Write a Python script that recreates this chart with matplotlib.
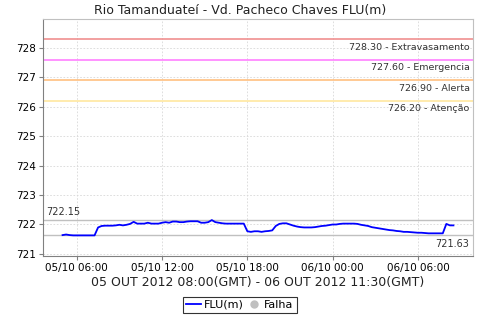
import datetime as dt

import matplotlib

matplotlib.use("Agg")
import matplotlib.pyplot as plt
import matplotlib.dates as mdates
from matplotlib.lines import Line2D

# ---- data ---------------------------------------------------------------- #
start = dt.datetime(2012, 10, 5, 5, 0)
step_min = 15
flu = [
    721.64, 721.66, 721.64, 721.63, 721.63, 721.63, 721.63, 721.63, 721.63, 721.63,
    721.90, 721.95, 721.96, 721.96, 721.96, 721.97, 721.99, 721.97, 721.99, 722.02,
    722.09, 722.03, 722.03, 722.03, 722.06, 722.03, 722.03, 722.03, 722.06, 722.08,
    722.06, 722.10, 722.10, 722.08, 722.08, 722.10, 722.11, 722.11, 722.11, 722.06,
    722.06, 722.08, 722.15, 722.08, 722.06, 722.04, 722.03, 722.03, 722.03, 722.03,
    722.03, 722.03, 721.77, 721.75, 721.77, 721.77, 721.75, 721.77, 721.78, 721.80,
    721.95, 722.02, 722.04, 722.04, 722.00, 721.96, 721.93, 721.91, 721.90, 721.90,
    721.90, 721.91, 721.93, 721.95, 721.96, 721.98, 722.00, 722.00, 722.02, 722.03,
    722.03, 722.03, 722.03, 722.02, 721.99, 721.97, 721.95, 721.91, 721.89, 721.87,
    721.85, 721.83, 721.81, 721.80, 721.78, 721.77, 721.75, 721.75, 721.74, 721.73,
    721.72, 721.72, 721.71, 721.70, 721.70, 721.70, 721.70, 721.70, 722.02, 721.97,
    721.97,
]
times = [start + dt.timedelta(minutes=step_min * i) for i in range(len(flu))]

thr_values = [728.30, 727.60, 726.90, 726.20]
thr_names = ["Extravasamento", "Emergencia", "Alerta", "Atenção"]
thr_colors = ["#f09090", "#ff80ff", "#ffc080", "#ffe8a0"]

vmax, vmin = 722.15, 721.63

# ---- figure -------------------------------------------------------------- #
plt.rcParams["font.family"] = "DejaVu Sans"
fig = plt.figure(figsize=(4.8, 3.2), dpi=100)
ax = fig.add_axes([0.0896, 0.2, 0.8958, 0.7406])

t0 = mdates.date2num(times[0])
t1 = mdates.date2num(times[-1])
pad = 0.05 * (t1 - t0)
ax.set_xlim(t0 - pad, t1 + pad)
ax.set_ylim(720.93, 728.98)

# light dashed grid
ax.grid(True, color="#d8d8d8", linestyle=(0, (2, 2)), linewidth=0.6)
ax.set_axisbelow(True)

for v, name, c in zip(thr_values, thr_names, thr_colors):
    ax.axhline(v, color=c, lw=1.2, zorder=2)
    ax.text(0.992, v - 0.12, f"{v:.2f} - {name}", transform=ax.get_yaxis_transform(),
            ha="right", va="top", fontsize=6.8, color="#333333")

for v in (vmax, vmin):
    ax.axhline(v, color="#c0c0c0", lw=1.0, zorder=2)
ax.text(0.008, vmax + 0.12, f"{vmax:.2f}", transform=ax.get_yaxis_transform(),
        ha="left", va="bottom", fontsize=7, color="#333333")
ax.text(0.992, vmin - 0.12, f"{vmin:.2f}", transform=ax.get_yaxis_transform(),
        ha="right", va="top", fontsize=7, color="#333333")

ax.plot(times, flu, color="#0000ff", lw=1.3, zorder=3)

ax.xaxis.set_major_locator(mdates.HourLocator(byhour=[0, 6, 12, 18]))
ax.xaxis.set_major_formatter(mdates.DateFormatter("%d/%m %H:%M"))
ax.set_yticks(range(721, 729))
ax.tick_params(labelsize=7.5, length=3, color="#808080", pad=2)

for s in ("left", "bottom"):
    ax.spines[s].set_color("#808080")
for s in ("top", "right"):
    ax.spines[s].set_color("#c0c0c0")

fig.text(0.5, 0.968, "Rio Tamanduateí - Vd. Pacheco Chaves FLU(m)",
         ha="center", va="center", fontsize=9, color="#222222")
ax.set_xlabel("05 OUT 2012 08:00(GMT) - 06 OUT 2012 11:30(GMT)", fontsize=9,
              labelpad=2, color="#222222")

handles = [
    Line2D([], [], color="#0000ff", lw=1.3),
    Line2D([], [], color="#c0c0c0", marker="o", ls="none", markersize=5),
]
leg = fig.legend(handles, ["FLU(m)", "Falha"], loc="center", bbox_to_anchor=(0.5, 0.047),
                 ncol=2, fontsize=8, frameon=True, fancybox=False, handlelength=1.3,
                 handletextpad=0.3, columnspacing=0.2, borderpad=0.3)
leg.get_frame().set_edgecolor("black")
leg.get_frame().set_linewidth(0.8)

fig.savefig("out.png", dpi=100)
